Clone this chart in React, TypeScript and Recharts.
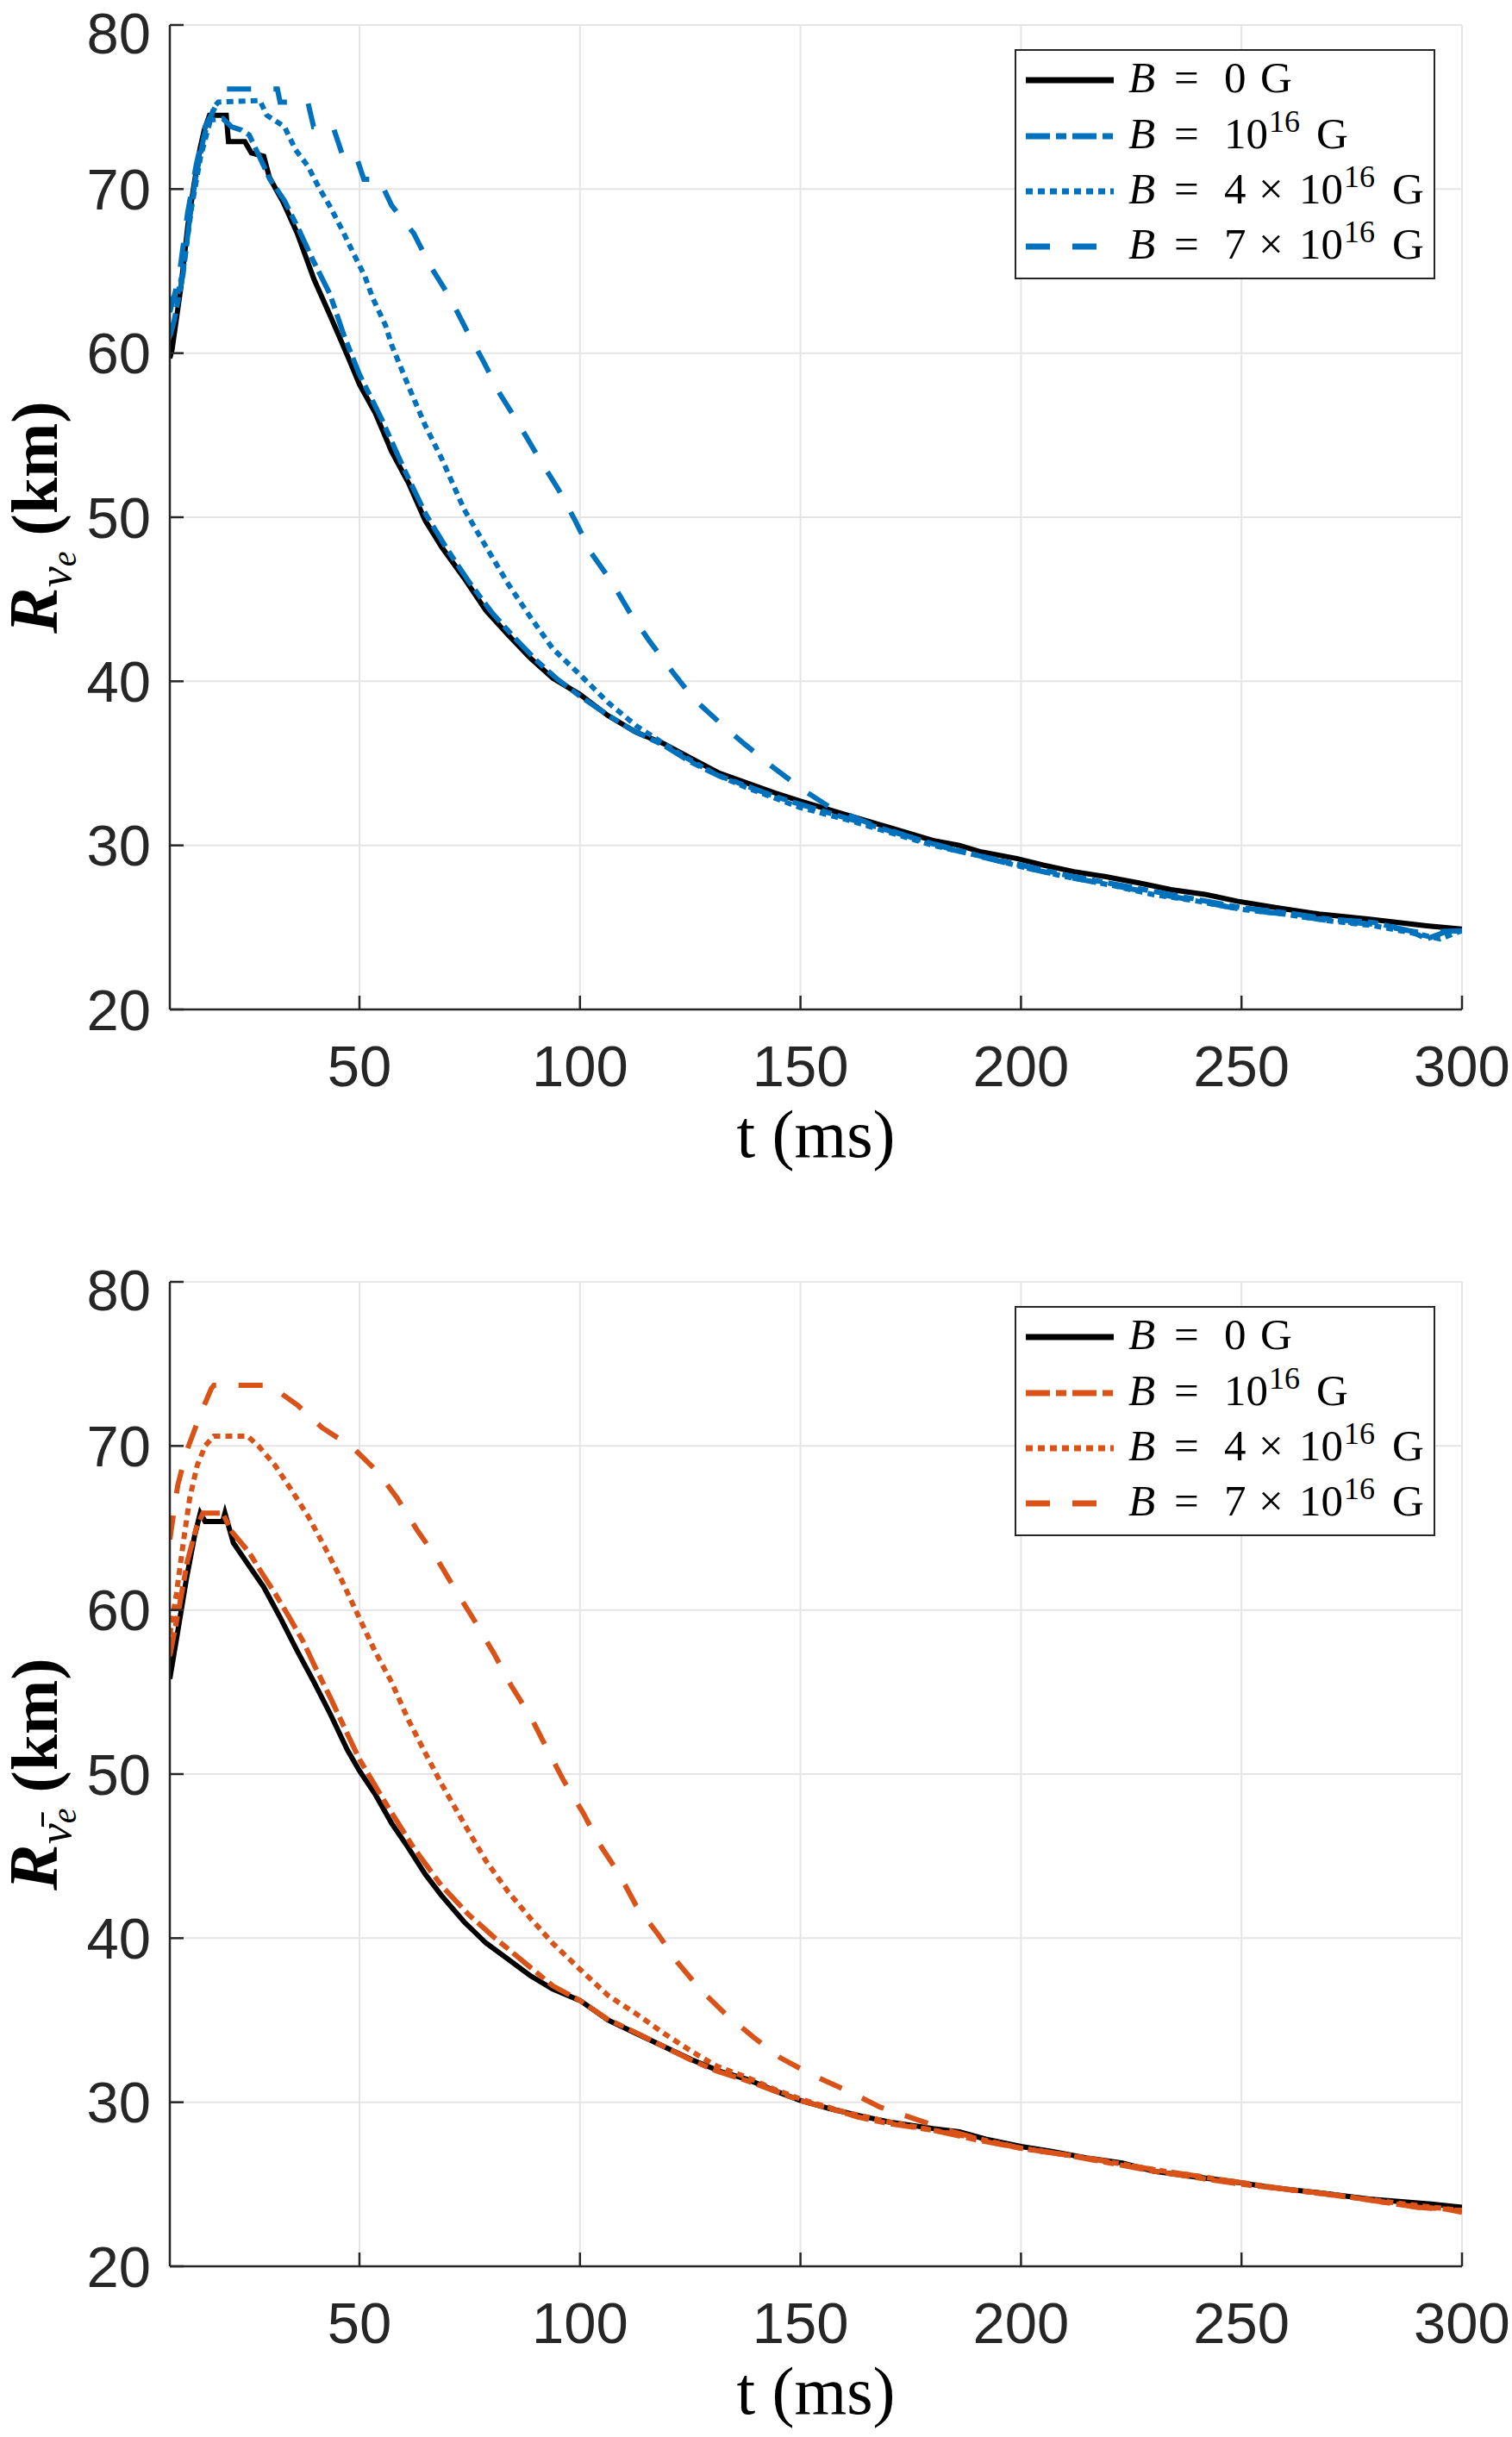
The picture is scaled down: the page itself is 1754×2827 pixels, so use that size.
import { LineChart, Line, XAxis, YAxis, CartesianGrid, Legend } from 'recharts'

type Pt = [number, number]

const xTicks = [50, 100, 150, 200, 250, 300]
const yTicks = [20, 30, 40, 50, 60, 70, 80]

// R_nu_e panel, [t (ms), R (km)]
const nuB0: Pt[] = [
  [7, 59.7], [7.5, 60.2], [9.5, 64.0], [11.1, 67.8], [12.5, 70.3], [13.8, 72.4], [14.8, 73.6], [16, 74.5],
  [19.8, 74.5], [20.3, 72.9], [24, 72.9], [25.5, 72.2], [28.3, 72.0], [29.6, 70.7], [32.7, 69.2], [35.9, 67.3],
  [39.7, 64.5], [43.5, 62.2], [47.2, 59.9], [50, 58.1], [53.5, 56.4], [57.3, 54.0], [61.1, 52.1], [64.9, 49.8],
  [68.6, 48.2], [73.7, 46.3], [78.7, 44.3], [83.8, 42.8], [88.8, 41.4], [93.8, 40.2], [100, 39.2], [106.4, 37.9],
  [112.7, 36.9], [119, 36.2], [125.3, 35.3], [131.6, 34.4], [137.9, 33.8], [144.2, 33.2], [150, 32.7], [160, 31.9],
  [170, 31.1], [180, 30.3], [186, 30.0], [191, 29.6], [199, 29.2], [205, 28.8], [212, 28.4], [219, 28.1],
  [227, 27.7], [234, 27.3], [242, 27.0], [249, 26.6], [258, 26.2], [268, 25.8], [279, 25.5], [292, 25.1], [300, 24.9],
]
const nuB1: Pt[] = [
  [7, 61.0], [8, 62.0], [10, 64.8], [11.5, 68.2], [12.8, 70.6], [14.8, 73.3], [16, 74.2], [19, 74.3],
  [21, 73.8], [23.2, 73.6], [25, 73.3], [27.1, 72.1], [29.7, 70.6], [33, 69.3], [36.3, 67.5], [39.4, 65.7],
  [43.3, 63.6], [46.6, 61.0], [50, 58.7], [55, 56.0], [60, 53.0], [65, 50.2], [70, 48.0], [75, 46.0],
  [80, 44.2], [85, 42.7], [90, 41.3], [95, 40.1], [100, 39.1], [106, 38.0], [112, 37.0], [119, 36.1],
  [125, 35.1], [131, 34.3], [138, 33.6], [144, 33.0], [150, 32.5], [160, 31.7], [170, 30.9], [180, 30.1],
  [190, 29.4], [200, 28.8], [210, 28.2], [220, 27.7], [230, 27.2], [240, 26.7], [250, 26.2], [260, 25.9],
  [270, 25.5], [280, 25.3], [288, 24.8], [292, 24.3], [296, 24.7], [300, 24.8],
]
const nuB4: Pt[] = [
  [7, 63.3], [8.5, 63.3], [10, 65.0], [12, 69.0], [14, 72.0], [16, 74.0], [17, 75.0], [18, 75.3],
  [27.4, 75.4], [29, 74.5], [33, 73.8], [35.5, 72.4], [38.3, 71.4], [40.8, 70.1], [43.4, 68.9], [46.1, 67.5],
  [48.6, 66.1], [51.2, 64.7], [53.1, 63.3], [55.9, 61.7], [57.3, 60.5], [61.1, 58.0], [64.9, 55.6], [68.6, 53.6],
  [73.7, 50.5], [78.7, 48.2], [83.8, 45.9], [88.8, 43.9], [93.8, 42.0], [100, 40.4], [106.4, 38.7], [112.7, 37.3],
  [119, 36.2], [125, 35.2], [131, 34.3], [138, 33.5], [144, 32.9], [150, 32.3], [160, 31.6], [170, 30.8],
  [180, 30.0], [190, 29.4], [200, 28.7], [210, 28.1], [220, 27.6], [230, 27.0], [240, 26.6], [250, 26.1],
  [260, 25.8], [270, 25.4], [280, 25.1], [290, 24.6], [295, 24.3], [300, 24.8],
]
const nuB7: Pt[] = [
  [7, 62.5], [9, 64.5], [11, 68.5], [13, 71.5], [15, 73.8], [17.7, 75.2], [19.9, 76.1], [31.4, 76.1],
  [32, 75.3], [38.3, 75.3], [39.6, 73.8], [44, 73.8], [46, 72.2], [49, 72.2], [51, 70.6], [54.5, 70.6],
  [57.3, 69.0], [62.3, 67.3], [66.1, 65.3], [70.5, 63.4], [74.3, 61.4], [78.1, 59.5], [81.9, 57.5], [86.3, 55.6],
  [90.7, 53.6], [95.1, 51.7], [98.9, 49.8], [102.6, 47.8], [107.1, 46.1], [111.5, 44.1], [115.9, 42.4], [120.9, 40.6],
  [125.9, 38.9], [131.6, 37.5], [137.2, 36.2], [143.6, 34.8], [150.5, 33.4], [156.8, 32.3], [165, 31.4], [175, 30.5],
  [185, 29.7], [200, 28.7], [210, 28.1], [220, 27.6], [230, 27.1], [240, 26.6], [250, 26.1], [260, 25.8],
  [270, 25.4], [280, 25.2], [290, 24.7], [300, 24.8],
]

// R_nubar_e panel
const barB0: Pt[] = [
  [7, 55.8], [8.8, 58.7], [10.7, 61.8], [12.6, 64.5], [13.9, 65.9], [15, 65.4], [19, 65.4], [19.5, 65.9],
  [21.4, 64.1], [25.2, 62.6], [28.3, 61.4], [32.1, 59.5], [35.9, 57.5], [39.7, 55.6], [43.5, 53.6], [47.2, 51.5],
  [50, 50.2], [53.5, 48.8], [57.3, 47.0], [61.1, 45.5], [64.9, 43.9], [68.6, 42.6], [73.7, 41.0], [78.7, 39.7],
  [83.8, 38.7], [88.8, 37.7], [93.8, 36.9], [100, 36.2], [106.4, 35.0], [112.7, 34.2], [119, 33.4], [125.3, 32.6],
  [131.6, 31.9], [137.9, 31.4], [144.2, 30.7], [150, 30.1], [156.8, 29.6], [163, 29.2], [170, 28.8], [180, 28.4],
  [186, 28.2], [192, 27.75], [200, 27.3], [207, 27.0], [215, 26.6], [223, 26.3], [230, 25.8], [238, 25.5],
  [247, 25.2], [257, 24.8], [267, 24.5], [279, 24.1], [293, 23.8], [300, 23.6],
]
const barB1: Pt[] = [
  [7, 57.2], [9, 60.0], [11, 63.0], [13, 65.0], [14.5, 65.9], [19, 65.9], [21, 64.8], [25, 63.5],
  [28, 62.2], [30.9, 61.0], [34, 59.6], [37.2, 58.1], [40, 56.5], [43.5, 54.6], [47, 52.6], [50, 50.9],
  [56, 48.2], [62.3, 45.5], [68.6, 43.2], [74.9, 41.4], [81.2, 39.9], [87.5, 38.5], [93.8, 37.1], [100, 36.2],
  [106, 35.1], [113, 34.2], [119, 33.4], [125, 32.6], [131, 31.9], [138, 31.3], [144, 30.7], [150, 30.1],
  [157, 29.6], [163, 29.1], [170, 28.7], [180, 28.3], [190, 27.7], [200, 27.2], [210, 26.8], [220, 26.3],
  [230, 25.8], [240, 25.4], [250, 25.0], [260, 24.7], [270, 24.4], [280, 24.0], [290, 23.6], [296, 23.5], [300, 23.3],
]
const barB4: Pt[] = [
  [7, 58.5], [8.5, 61.0], [10, 64.0], [11.5, 66.8], [13.2, 68.8], [15, 70.0], [17, 70.6], [24.6, 70.6],
  [27.1, 70.0], [30.9, 68.8], [34.6, 67.3], [38.4, 65.7], [42.2, 63.8], [46, 61.8], [50, 59.5], [53.5, 57.5],
  [57.3, 55.6], [61.1, 53.3], [64.9, 51.3], [68.6, 49.4], [73.7, 47.0], [78.7, 44.7], [83.8, 42.8], [88.8, 41.2],
  [93.8, 39.7], [100, 38.1], [106.4, 36.5], [112.7, 35.4], [119, 34.2], [125.3, 33.1], [131, 32.2], [138, 31.5],
  [144, 30.8], [150, 30.2], [160, 29.4], [170, 28.8], [180, 28.3], [190, 27.8], [200, 27.2], [215, 26.6],
  [230, 25.9], [245, 25.3], [260, 24.7], [275, 24.2], [290, 23.7], [300, 23.4],
]
const barB7: Pt[] = [
  [7, 64.3], [8.8, 67.6], [10.7, 69.6], [13.9, 71.9], [16.4, 73.5], [17, 73.7], [29.6, 73.7], [35.9, 72.5],
  [41.6, 71.1], [48.5, 69.9], [54.2, 68.4], [58.6, 66.8], [63, 64.9], [67.4, 63.2], [71.8, 61.2], [76.2, 59.3],
  [80.6, 57.3], [84.4, 55.4], [88.8, 53.5], [92.6, 51.5], [96.3, 49.6], [100.8, 47.6], [104.5, 45.7], [108.9, 43.9],
  [112.7, 42.0], [117.8, 40.2], [122.2, 38.5], [127.2, 36.9], [132.9, 35.4], [139.2, 34.0], [145.5, 32.7], [152.4, 31.7],
  [160.6, 30.7], [168.1, 29.7], [175.7, 29.0], [184.5, 28.2], [194.6, 27.5], [200, 27.2], [215, 26.6], [230, 25.9],
  [245, 25.3], [260, 24.7], [275, 24.2], [290, 23.6], [300, 23.4],
]

const BLUE = '#0072BD'
const ORANGE = '#D95319'
const INK = '#262626'
const SERIF = "'Liberation Serif', 'Times New Roman', serif"
const SANS = "'Liberation Sans', Arial, sans-serif"

// solid, dash-dot, dotted, dashed
const dashes = [undefined, '28 7 12 7', '8 6', '28 26']

const toRows = (pts: Pt[]) => pts.map(([t, r]) => ({ t, r }))

function XLabel({ viewBox }: any) {
  const x = viewBox ? viewBox.x + viewBox.width / 2 : 946
  const y = viewBox ? viewBox.y + 171 : 1342
  return (
    <text x={x} y={y} textAnchor="middle" fontFamily={SERIF} fontSize={78} fill="#000">
      t (ms)
    </text>
  )
}

function YLabel({ viewBox, bar }: any) {
  const cy = viewBox ? viewBox.y + viewBox.height / 2 : 600
  const x = 66
  return (
    <text x={x} y={cy} transform={`rotate(-90 ${x} ${cy})`} textAnchor="middle" fontFamily={SERIF} fill="#000">
      <tspan fontSize={80} fontWeight="bold" fontStyle="italic">R</tspan>
      <tspan fontSize={54} fontStyle="italic" dy={16}>{bar ? 'ν\u0304' : 'ν'}</tspan>
      <tspan fontSize={40} fontStyle="italic" dy={6}>e</tspan>
      <tspan fontSize={76} fontWeight="bold" dy={-22} dx={18}>(km)</tspan>
    </text>
  )
}

function LegendBox({ color }: { color: string }) {
  const lineY = [36, 101, 165, 229]
  const baseY = [50, 115, 179, 243]
  const colors = ['#000', color, color, color]
  return (
    <svg width={488} height={267} style={{ display: 'block' }}>
      <rect x={1} y={1} width={486} height={265} fill="#fff" stroke={INK} strokeWidth={2} />
      {lineY.map((y, i) => (
        <line key={i} x1={13} x2={i === 3 ? 99 : 115} y1={y} y2={y} stroke={colors[i]} strokeWidth={7} strokeDasharray={dashes[i]} />
      ))}
      <g fontFamily={SERIF} fontSize={51} fill="#000">
        <text y={baseY[0]}>
          <tspan x={132} fontStyle="italic">B</tspan>
          <tspan x={185}>=</tspan>
          <tspan x={243}>0</tspan>
          <tspan x={285}>G</tspan>
        </text>
        <text y={baseY[1]}>
          <tspan x={132} fontStyle="italic">B</tspan>
          <tspan x={185}>=</tspan>
          <tspan x={243}>10</tspan>
          <tspan x={295} dy={-19} fontSize={36}>16</tspan>
          <tspan x={350} dy={19}>G</tspan>
        </text>
        {['4', '7'].map((k, j) => (
          <text key={k} y={baseY[2 + j]}>
            <tspan x={132} fontStyle="italic">B</tspan>
            <tspan x={185}>=</tspan>
            <tspan x={243}>{k}</tspan>
            <tspan x={283}>×</tspan>
            <tspan x={330}>10</tspan>
            <tspan x={382} dy={-19} fontSize={36}>16</tspan>
            <tspan x={438} dy={19}>G</tspan>
          </text>
        ))}
      </g>
    </svg>
  )
}

function Panel({ top, height, series, color, bar }: { top: number; height: number; series: Pt[][]; color: string; bar: boolean }) {
  const axisStyle = { stroke: INK, strokeWidth: 2.5 }
  return (
    <div style={{ position: 'absolute', left: 0, top, width: 1754, height }}>
      <LineChart width={1754} height={height} margin={{ top: 29, right: 58, left: 0, bottom: height - 1171 - 190 }}>
        <CartesianGrid stroke="#e5e5e5" strokeWidth={2} />
        <XAxis
          dataKey="t"
          type="number"
          domain={[7, 300]}
          ticks={xTicks}
          allowDataOverflow
          height={190}
          tickSize={-16}
          tickMargin={57}
          axisLine={axisStyle}
          tickLine={axisStyle}
          tick={{ fill: INK, fontSize: 67, fontFamily: SANS }}
          label={<XLabel />}
        />
        <XAxis
          xAxisId="top"
          orientation="top"
          dataKey="t"
          type="number"
          domain={[7, 300]}
          ticks={xTicks}
          allowDataOverflow
          height={0}
          tickSize={-16}
          axisLine={axisStyle}
          tickLine={axisStyle}
          tick={false}
        />
        <YAxis
          type="number"
          domain={[20, 80]}
          ticks={yTicks}
          allowDataOverflow
          width={197}
          tickSize={-16}
          tickMargin={38}
          axisLine={axisStyle}
          tickLine={axisStyle}
          tick={{ fill: INK, fontSize: 67, fontFamily: SANS }}
          label={<YLabel bar={bar} />}
        />
        <YAxis
          yAxisId="right"
          orientation="right"
          type="number"
          domain={[20, 80]}
          ticks={yTicks}
          allowDataOverflow
          width={0}
          tickSize={-16}
          axisLine={axisStyle}
          tickLine={axisStyle}
          tick={false}
        />
        {series.map((s, i) => (
          <Line
            key={i}
            data={toRows(s)}
            dataKey="r"
            type="linear"
            stroke={i === 0 ? '#000' : color}
            strokeWidth={6}
            strokeDasharray={dashes[i]}
            dot={false}
            activeDot={false}
            isAnimationActive={false}
          />
        ))}
        <Legend
          layout="vertical"
          align="center"
          verticalAlign="middle"
          wrapperStyle={{ left: 1177, top: 57, width: 488, height: 267 }}
          content={() => <LegendBox color={color} />}
        />
      </LineChart>
    </div>
  )
}

export default function App() {
  return (
    <div style={{ position: 'absolute', left: 0, top: 0, width: 1754, height: 2827, background: '#fff' }}>
      <Panel top={0} height={1458} series={[nuB0, nuB1, nuB4, nuB7]} color={BLUE} bar={false} />
      <Panel top={1458} height={1369} series={[barB0, barB1, barB4, barB7]} color={ORANGE} bar={true} />
    </div>
  )
}
